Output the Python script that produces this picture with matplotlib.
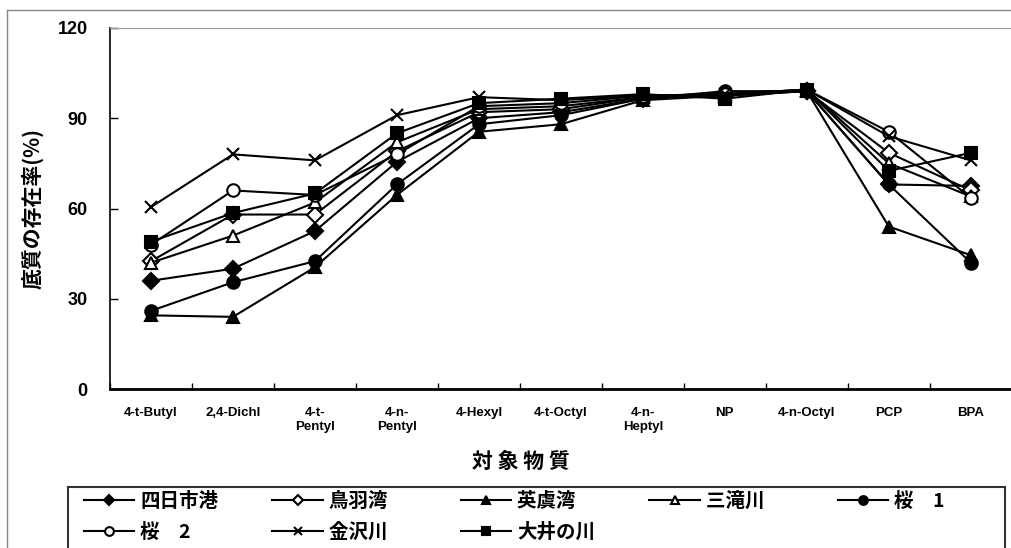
import numpy as np
import matplotlib.pyplot as plt
from matplotlib.lines import Line2D
from matplotlib.patches import Rectangle

plt.rcParams['font.family'] = ['Liberation Sans', 'Noto Sans CJK JP', 'DejaVu Sans']

# categories (x axis)
categories = ["4-t-Butyl", "2,4-Dichl", "4-t-\nPentyl", "4-n-\nPentyl", "4-Hexyl",
              "4-t-Octyl", "4-n-\nHeptyl", "NP", "4-n-Octyl", "PCP", "BPA"]

# series values (%)
yokkaichi = [36, 40, 52.5, 75.5, 90, 92, 96.5, 97.5, 99, 68, 67.5]
toba = [42.5, 58, 58, 79, 92, 93, 97, 98, 99, 78.5, 66]
ago = [24.5, 24, 40.5, 64.5, 85.5, 88, 96, 97.5, 99, 54, 44.5]
mitaki = [42, 51, 62, 82, 93, 94, 97, 98, 99.5, 75, 64]
sakura1 = [26, 35.5, 42.5, 68, 88, 91, 96.5, 99, 99, 68, 42]
sakura2 = [48, 66, 64.5, 78, 94, 95, 97.5, 98, 99.5, 85.5, 63.5]
kanazawa = [60.5, 78, 76, 91, 97, 96, 97.5, 98, 99.5, 84, 76]
ooi = [49, 58.5, 65, 85, 95, 96.5, 98, 96.5, 99.5, 72.5, 78.5]

names = ["四日市港", "鳥羽湾", "英虞湾", "三滝川", "桜　1", "桜　2", "金沢川", "大井の川"]
series = [yokkaichi, toba, ago, mitaki, sakura1, sakura2, kanazawa, ooi]
markers = ["D", "D", "^", "^", "o", "o", "x", "s"]
filled = [True, False, True, False, True, False, True, True]

fig = plt.figure(figsize=(10.11, 5.48), dpi=100)
ax = fig.add_axes([0.1088, 0.290, 0.892, 0.659])

x = np.arange(len(categories))
handles = []
for vals, name, m, f in zip(series, names, markers, filled):
    ms = 8 if m == "D" else 9
    h, = ax.plot(x, vals, color="black", lw=1.5, marker=m, ms=ms,
                 mfc="black" if f else "white", mec="black", mew=1.5, label=name)
    handles.append(h)

ax.set_xlim(-0.5, len(categories) - 0.5)
ax.set_ylim(0, 120)
ax.set_yticks([0, 30, 60, 90, 120])
ax.set_yticklabels(["0", "30", "60", "90", "120"], fontsize=13, fontweight="bold")
ax.tick_params(axis="y", direction="in", length=6, width=1, pad=16)

ax.set_xticks(np.arange(len(categories) + 1) - 0.5, minor=False)
ax.set_xticklabels([])
ax.set_xticks(x, minor=True)
ax.set_xticklabels(categories, minor=True, fontsize=9.5, fontweight="bold", va="top")
ax.tick_params(axis="x", which="major", direction="in", length=4, width=1)
ax.tick_params(axis="x", which="minor", length=0, pad=13)

ax.spines["right"].set_visible(False)
ax.spines["top"].set_color("#999999")
ax.spines["left"].set_linewidth(1.2)
ax.spines["bottom"].set_linewidth(2.0)

ax.set_ylabel("底質の存在率(%)", fontsize=15, fontweight="bold",
              family=["Noto Sans CJK JP", "DejaVu Sans"], labelpad=10)
fig.text(0.515, 0.157, "対 象 物 質", ha="center", va="center", fontsize=15,
         fontweight="bold", family=["Noto Sans CJK JP", "DejaVu Sans"])

# legend filled row by row, labels padded so columns are even
order = [0, 5, 1, 6, 2, 7, 3, 4]
padded = [n + "　" * (4 - len(n)) for n in names]
leg = fig.legend([handles[i] for i in order], [padded[i] for i in order],
                 loc="upper left", bbox_to_anchor=(80 / 1011, 1 - 488 / 548),
                 ncol=5, frameon=False, markerscale=0.7, borderaxespad=0, borderpad=0.2,
                 handlelength=2.6, handletextpad=0.3, columnspacing=2.78, labelspacing=0.6,
                 prop={"family": ["Noto Sans CJK JP", "DejaVu Sans"], "weight": "bold", "size": 14})

# legend box
fig.add_artist(Rectangle((68 / 1011, -0.01), (1005 - 68) / 1011, (548 - 487) / 548 + 0.01,
                         fill=False, ec="#333333", lw=1.5, transform=fig.transFigure))

# outer frame of the figure
fig.add_artist(Line2D([0.007, 0.007], [0.0, 0.982], color="#888888", lw=1, transform=fig.transFigure))
fig.add_artist(Line2D([0.007, 1.0], [0.982, 0.982], color="#888888", lw=1, transform=fig.transFigure))

fig.savefig("out.png", dpi=100)
